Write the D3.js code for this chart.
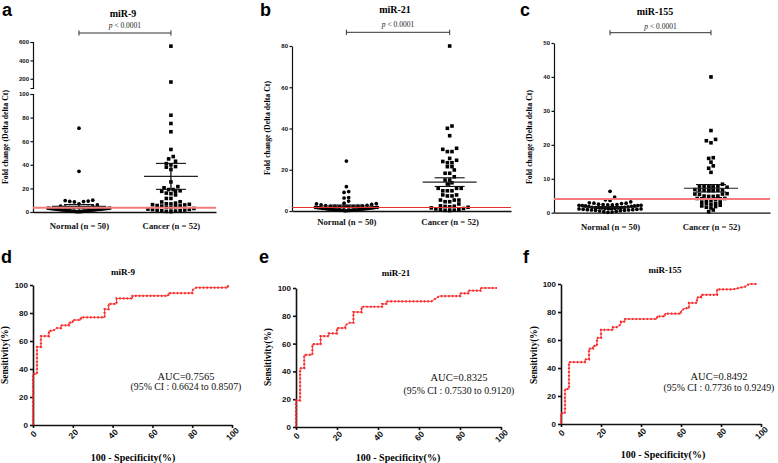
<!DOCTYPE html>
<html><head><meta charset="utf-8">
<script src="https://cdn.jsdelivr.net/npm/d3@7"></script>
<style>body{margin:0;background:#fff}svg{display:block}</style>
</head><body>
<svg id="chart" width="778" height="463"></svg>
<script>
// ---------- DATA ----------
const groups = ["Normal (n = 50)", "Cancer (n = 52)"];
const mirNames = ["miR-9", "miR-21", "miR-155"];
const pLabel = "< 0.0001";

const mir9Normal = [71,34.5,10,9.7,9.3,9,8.8,8.5,7,6,5,4.5,4.2,4,3.8,3.6,3.5,3.4,3.3,3.2,3.1,3,2.9,2.8,2.7,2.6,2.5,2.4,2.3,2.2,2.1,2,1.9,1.8,1.7,1.6,1.5,1.4,1.3,1.2,1.1,1,0.9,0.8,0.7,0.6,0.5,0.4,0.3,0.2];
const mir9Cancer = [555,165,82,75,68,53,47,45,43,41,40,38.5,38,36,25.5,21.5,20.5,19,19,18,17.5,17.5,16,15.5,14.5,11.5,11.5,8.7,8.5,7.5,7,6.8,6.5,6.2,6,5.5,5.2,5,4.5,4,3.5,3,2.5,2.2,2,1.7,1.5,1.2,1,0.8,0.5,0.3];
const mir21Normal = [24.2,11.8,9.4,9,6.5,6.3,4.8,3.8,3.6,3.5,3.2,3,2.8,2.6,2.5,2.4,2.3,2.2,2.1,2,2,1.9,1.8,1.8,1.7,1.6,1.5,1.5,1.4,1.3,1.2,1.2,1.1,1,1,0.9,0.9,0.8,0.8,0.7,0.6,0.6,0.5,0.5,0.4,0.4,0.3,0.3,0.2,0.1];
const mir21Cancer = [80,41.2,40.1,36.5,30.4,29.9,28.8,28.8,25.5,24.6,24,23.4,23.4,21.5,21.5,19.9,18.3,18.3,16.6,15,15,13.7,13.1,11,11,11,9.8,9.8,9.8,7.8,7.8,7.3,7.3,5.3,5.3,5.3,4.5,4.5,3.4,2.5,2.3,2.2,2,1.8,1.5,1.2,1,0.8,0.6,0.4,0.3,0.2];
const mir155Normal = [6.3,4.6,3.8,3.6,3.2,2.9,2.8,2.8,2.7,2.5,2.4,2.4,2.3,2.3,2.2,2.2,2.1,2.1,2,2,1.9,1.8,1.7,1.6,1.6,1.5,1.5,1.5,1.4,1.4,1.3,1.3,1.2,1.2,1.1,1.1,1,1,0.9,0.9,0.8,0.8,0.7,0.7,0.6,0.5,0.4,0.3,0.2,0.1];
const mir155Cancer = [40,24.2,21.6,21.2,20.6,16.2,16,14.9,13.8,13.1,11.9,8.4,7.8,7.7,7.7,7.6,7.6,7.5,6.8,6.7,6.7,6.6,6.6,6.5,6.5,5.6,5.5,5.5,5.4,4.9,4.9,4.8,4.8,4.2,4.2,4.1,4.1,4,3.6,3.6,3.1,3,2.8,2.7,2.5,2.2,2,1.8,1.6,1.4,0.8,0.3];

// mean and SEM per group [Normal, Cancer]
const mir9Mean = [4.8, 30.2], mir9Sem = [1.5, 11];
const mir21Mean = [2.4, 14], mir21Sem = [0.5, 2.1];
const mir155Mean = [1.6, 7.2], mir155Sem = [0.2, 1.1];
const cutoffs = [3.6, 1.7, 4.0];

const mir9TicksLow = [0,20,40,60,80,100];
const mir9TicksHigh = [200,400,600];
const mir21Ticks = [0,20,40,60,80];
const mir155Ticks = [0,10,20,30,40,50];
const rocTicks = [0,20,40,60,80,100];

// ROC vertices [100-specificity, sensitivity]
const rocMir9 = [[0,0],[0,36.5],[2,36.5],[2,55.8],[4,55.8],[4,63.5],[8,63.5],[8,67.3],[10,67.3],[12,69.2],[14,69.2],[14,71.2],[18,71.2],[18,73.1],[20,73.1],[20,75],[24,75],[24,76.9],[36,76.9],[36,82.7],[38,82.7],[38,86.5],[42,86.5],[42,90.4],[50,90.4],[50,92.3],[68,92.3],[68,94.2],[80,94.2],[80,96.2],[82,98.1],[98,98.1],[98,100]];
const rocMir21 = [[0,0],[0,19.2],[2,19.2],[2,42.3],[4,42.3],[4,51.9],[8,51.9],[8,59.6],[12,59.6],[12,65.4],[16,65.4],[16,67.3],[20,67.3],[20,71.2],[24,71.2],[24,73.1],[26,75],[28,75],[28,82.7],[32,82.7],[32,86.5],[42,86.5],[42,88.5],[44,88.5],[44,90.4],[66,90.4],[70,94.2],[80,94.2],[80,96.2],[84,96.2],[84,98.1],[90,98.1],[90,100],[98,100]];
const rocMir155 = [[0,0],[0,7.7],[2,7.7],[2,25],[4,25],[4,44.2],[12,44.2],[12,46.2],[14,46.2],[14,53.8],[16,53.8],[16,55.8],[18,55.8],[18,61.5],[20,61.5],[20,67.3],[26,67.3],[26,69.2],[28,69.2],[30,71.2],[30,73.1],[32,73.1],[32,75],[48,75],[48,76.9],[52,76.9],[52,78.8],[60,78.8],[60,80.8],[62,82.7],[64,82.7],[64,86.5],[68,86.5],[68,90.4],[70,90.4],[70,92.3],[78,92.3],[78,96.2],[86,96.2],[92,98.1],[94,100],[98,100]];
const aucLabels = ["AUC=0.7565","AUC=0.8325","AUC=0.8492"];
const ciLabels = ["(95% CI : 0.6624 to 0.8507)","(95% CI : 0.7530 to 0.9120)","(95% CI : 0.7736 to 0.9249)"];
const panelLetters = ["a","b","c","d","e","f"];

// ---------- LAYOUT ----------
const svg = d3.select("#chart");
svg.append("rect").attr("width",778).attr("height",463).attr("fill","#fff");
const SANS = "'Liberation Sans', Arial, sans-serif";
const SERIF = "'Liberation Serif', 'Times New Roman', serif";

const topPanels = [
  {normal: mir9Normal, cancer: mir9Cancer, mean: mir9Mean, sem: mir9Sem,
   xr:[33,216], pad:0.495, align:0.505,
   segs:[{d:[0,100], r:[212,94], t:mir9TicksLow},{d:[100,600], r:[88,42], t:mir9TicksHigh}],
   letter:[2,16], title:[123,16.5], bracketY:33, pY:28, ylab:[8,137], catY:229, cutCol:"#f47c7c", cutW:2},
  {normal: mir21Normal, cancer: mir21Cancer, mean: mir21Mean, sem: mir21Sem,
   xr:[292,511], pad:0.56, align:0.47,
   segs:[{d:[0,80], r:[211,46], t:mir21Ticks}],
   letter:[260,16], title:[395,13], bracketY:32.3, pY:27, ylab:[270,128], catY:225, cutCol:"#e8302e", cutW:1.2},
  {normal: mir155Normal, cancer: mir155Cancer, mean: mir155Mean, sem: mir155Sem,
   xr:[554,770], pad:0.57, align:0.487,
   segs:[{d:[0,50], r:[212.7,43], t:mir155Ticks}],
   letter:[520,16], title:[655,14.5], bracketY:32.7, pY:28.5, ylab:[532,137], catY:230, cutCol:"#f47c7c", cutW:2}
];

topPanels.forEach((P, i) => {
  const g = svg.append("g");
  const x = d3.scalePoint().domain(groups).range(P.xr).padding(P.pad).align(P.align);
  const scales = P.segs.map(s => d3.scaleLinear().domain(s.d).range(s.r));
  const yPix = v => {
    for (let k = 0; k < P.segs.length; k++) if (v <= P.segs[k].d[1] || k === P.segs.length-1) return scales[k](v);
  };
  P.segs.forEach((s, k) => {
    const ax = g.append("g").attr("transform", `translate(${P.xr[0]},0)`)
      .call(d3.axisLeft(scales[k]).tickValues(s.t).tickSize(2.5).tickSizeOuter(P.segs.length>1?2.5:0).tickPadding(1.5));
    ax.selectAll("path,line").attr("stroke","#111").attr("stroke-width",1.2);
    ax.selectAll("text").attr("font-family",SANS).attr("font-weight","bold").attr("font-size",6).attr("fill","#111");
  });
  const xa = g.append("g").attr("transform", `translate(0,${P.segs[0].r[0]})`)
    .call(d3.axisBottom(x).tickSize(0).tickSizeOuter(0).tickPadding(10));
  xa.select("path").attr("stroke","#111").attr("stroke-width",1.3);
  xa.selectAll("text").attr("font-family",SERIF).attr("font-weight","bold").attr("font-size",8.7).attr("fill","#111")
    .attr("dy",null).attr("y", P.catY - P.segs[0].r[0]);

  const size = 3.7, maxHalf = 31;
  [P.normal, P.cancer].forEach((vals, gi) => {
    const cx = x(groups[gi]);
    const pts = vals.map(v => ({v, y: yPix(v)})).sort((a,b) => b.y - a.y);
    const bins = []; let cur = null;
    pts.forEach(p => {
      if (cur && cur.y0 - p.y < size) cur.items.push(p);
      else { cur = {y0: p.y, items:[p]}; bins.push(cur); }
    });
    bins.forEach(b => {
      const n = b.items.length;
      const sp = n > 1 ? Math.min(size + 0.9, 2*maxHalf/(n-1)) : 0;
      const offs = d3.range(n).map(k => (k - (n-1)/2) * sp).sort((a,c) => Math.abs(a)-Math.abs(c) || a-c);
      b.items.sort((a,c) => a.v - c.v).forEach((p, k) => p.x = cx + offs[k]);
    });
    if (gi === 0) {
      g.selectAll(null).data(pts).enter().append("circle")
        .attr("cx", d => d.x).attr("cy", d => d.y).attr("r", 1.85).attr("fill","#000");
    } else {
      g.selectAll(null).data(pts).enter().append("rect")
        .attr("x", d => d.x - 1.8).attr("y", d => d.y - 1.8).attr("width",3.6).attr("height",3.6).attr("fill","#000");
    }
    const m = P.mean[gi], s = P.sem[gi];
    g.append("line").attr("x1",cx-27).attr("x2",cx+27).attr("y1",yPix(m)).attr("y2",yPix(m)).attr("stroke","#222").attr("stroke-width",1.1);
    [m+s, m-s].forEach(v => g.append("line").attr("x1",cx-15).attr("x2",cx+15).attr("y1",yPix(v)).attr("y2",yPix(v)).attr("stroke","#111").attr("stroke-width",1.1));
    g.append("line").attr("x1",cx).attr("x2",cx).attr("y1",yPix(m+s)).attr("y2",yPix(m-s)).attr("stroke","#111").attr("stroke-width",1.3);
  });
  g.append("line").attr("x1",P.xr[0]).attr("x2",P.xr[1]).attr("y1",yPix(cutoffs[i])).attr("y2",yPix(cutoffs[i]))
    .attr("stroke",P.cutCol).attr("stroke-width",P.cutW);

  const bx1 = x(groups[0]), bx2 = x(groups[1]);
  g.append("path").attr("d",`M${bx1},${P.bracketY-2.6}V${P.bracketY+2.6}M${bx1},${P.bracketY}H${bx2}M${bx2},${P.bracketY-2.6}V${P.bracketY+2.6}`)
    .attr("stroke","#333").attr("stroke-width",1).attr("fill","none");
  const pt = g.append("text").attr("x",(bx1+bx2)/2).attr("y",P.pY).attr("text-anchor","middle")
    .attr("font-family",SERIF).attr("font-size",7.5).attr("fill","#222");
  pt.append("tspan").attr("font-style","italic").text("p");
  pt.append("tspan").text(" " + pLabel);

  g.append("text").attr("x",P.title[0]).attr("y",P.title[1]).attr("text-anchor","middle")
    .attr("font-family",SERIF).attr("font-weight","bold").attr("font-size",10).text(mirNames[i]);
  g.append("text").attr("transform",`translate(${P.ylab[0]},${P.ylab[1]}) rotate(-90)`).attr("text-anchor","middle")
    .attr("font-family",SERIF).attr("font-weight","bold").attr("font-size",7.8).text("Fold change (Delta delta Ct)");
  g.append("text").attr("x",P.letter[0]).attr("y",P.letter[1]).attr("font-family",SANS).attr("font-weight","bold")
    .attr("font-size",18).text(panelLetters[i]);
});

// ---------- ROC panels ----------
const rocPanels = [
  {data: rocMir9, xr:[33,232], yr:[425,285], letter:[1,263], title:[123,275], ylab:[8,355], xlab:[133,461], auc:[186,380,390]},
  {data: rocMir21, xr:[296,501], yr:[427,288], letter:[259,263], title:[396,276], ylab:[271,357], xlab:[398,461], auc:[459,381,394]},
  {data: rocMir155, xr:[561,761], yr:[424,284], letter:[523,263], title:[665,273], ylab:[537,355], xlab:[663,458], auc:[719,380,391]}
];
rocPanels.forEach((P, i) => {
  const g = svg.append("g");
  const x = d3.scaleLinear().domain([0,100]).range(P.xr);
  const y = d3.scaleLinear().domain([0,100]).range(P.yr);
  const ya = g.append("g").attr("transform",`translate(${P.xr[0]},0)`)
    .call(d3.axisLeft(y).tickValues(rocTicks).tickSize(3).tickSizeOuter(0).tickPadding(2));
  ya.selectAll("path,line").attr("stroke","#111").attr("stroke-width",1.6);
  ya.selectAll("text").attr("font-family",SANS).attr("font-weight","bold").attr("font-size",8).attr("fill","#111");
  const xa = g.append("g").attr("transform",`translate(0,${P.yr[0]})`)
    .call(d3.axisBottom(x).tickValues(rocTicks).tickSize(3).tickSizeOuter(0));
  xa.selectAll("path,line").attr("stroke","#111").attr("stroke-width",1.6);
  xa.selectAll("text").attr("font-family",SANS).attr("font-weight","bold").attr("font-size",8.5).attr("fill","#111")
    .attr("text-anchor","middle").attr("dy","0.35em").attr("y",9).attr("transform","rotate(-45,0,9)");

  const line = d3.line().x(d => x(d[0])).y(d => y(d[1]));
  g.append("path").attr("d", line(P.data)).attr("fill","none").attr("stroke","#ff3b3b").attr("stroke-width",1);
  g.append("path").attr("d", line(P.data)).attr("fill","none").attr("stroke","#f42a2a").attr("stroke-width",2.2)
    .attr("stroke-dasharray","1.5,2.2");

  g.append("text").attr("x",P.title[0]).attr("y",P.title[1]).attr("text-anchor","middle")
    .attr("font-family",SERIF).attr("font-weight","bold").attr("font-size",9).text(mirNames[i]);
  g.append("text").attr("transform",`translate(${P.ylab[0]},${P.ylab[1]}) rotate(-90)`).attr("text-anchor","middle")
    .attr("font-family",SERIF).attr("font-weight","bold").attr("font-size",9.5).text("Sensitivity(%)");
  g.append("text").attr("x",P.xlab[0]).attr("y",P.xlab[1]).attr("text-anchor","middle")
    .attr("font-family",SERIF).attr("font-weight","bold").attr("font-size",10).text("100 - Specificity(%)");
  g.append("text").attr("x",P.auc[0]).attr("y",P.auc[1]).attr("text-anchor","middle")
    .attr("font-family",SERIF).attr("font-size",10.5).attr("fill","#111").text(aucLabels[i]);
  g.append("text").attr("x",P.auc[0]).attr("y",P.auc[2]).attr("text-anchor","middle")
    .attr("font-family",SERIF).attr("font-size",9.8).attr("fill","#111").text(ciLabels[i]);
  g.append("text").attr("x",P.letter[0]).attr("y",P.letter[1]).attr("font-family",SANS).attr("font-weight","bold")
    .attr("font-size",18).text(panelLetters[i+3]);
});
</script>
</body></html>
